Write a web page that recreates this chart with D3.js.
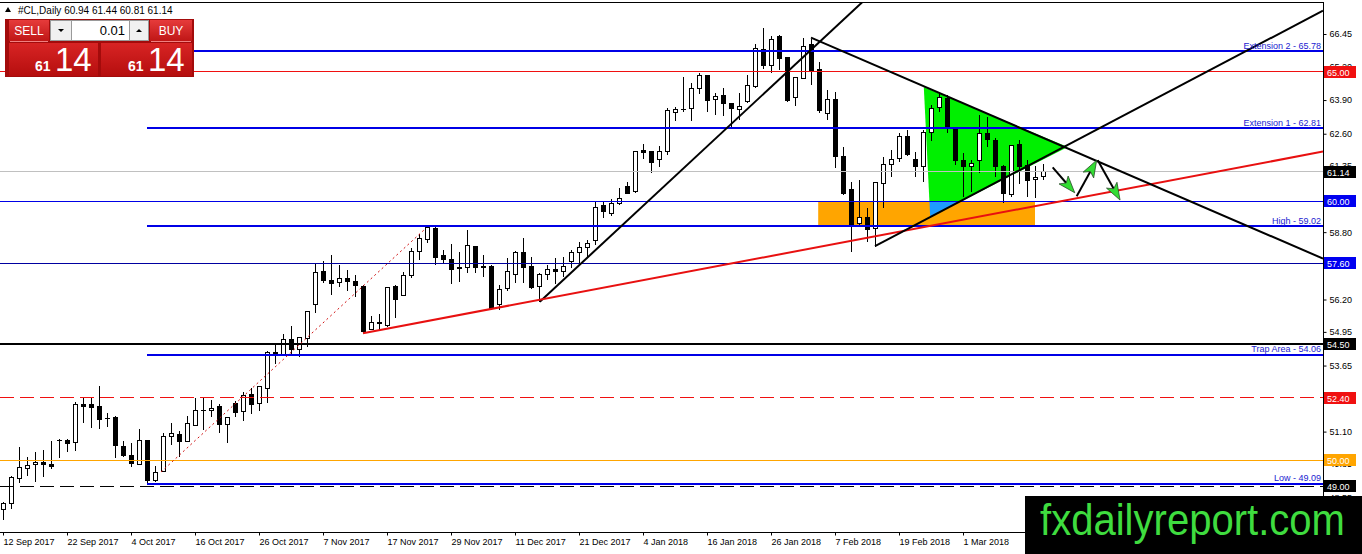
<!DOCTYPE html>
<html>
<head>
<meta charset="utf-8">
<script src="https://cdn.jsdelivr.net/npm/d3@7"></script>
<style>
  html, body { margin: 0; padding: 0; background: #fff; overflow: hidden; }
  svg { display: block; font-family: "Liberation Sans", Arial, sans-serif; }
</style>
</head>
<body>
<svg id="chart"></svg>
<script>
// --- daily OHLC for #CL, one bar per trading day from 12 Sep 2017 ---
const opens = [48.11,48.34,49.29,49.68,49.84,49.92,49.84,50.75,50.74,50.69,52.14,52.14,52.05,51.62,51.66,50.54,50.16,49.84,50.74,49.20,
  49.55,50.90,50.99,50.71,51.34,51.90,51.90,52.05,51.38,52.19,51.87,52.54,52.19,52.77,54.16,54.06,54.64,54.28,54.70,55.99,
  57.30,56.95,56.86,57.02,56.91,56.72,55.05,55.28,55.21,56.72,56.35,57.11,58.04,58.52,58.95,57.88,57.75,57.40,57.44,58.26,
  57.49,57.49,55.99,56.63,57.17,58.02,57.47,56.69,57.17,57.37,57.27,57.66,58.01,58.21,58.47,59.81,59.53,59.89,60.58,60.36,
  61.97,61.91,61.61,61.91,63.43,63.52,63.58,64.33,64.83,63.93,64.06,63.77,63.54,63.84,64.42,65.86,65.23,66.37,65.55,64.01,
  64.74,66.06,65.09,63.39,63.93,61.71,60.45,59.14,59.37,58.95,60.69,61.42,61.65,62.51,61.61,61.33,62.64,63.62,63.97,62.77,
  61.58,61.35,61.58,62.59,62.32,61.35,60.26,62.19,61.36,60.84,60.94];
const highs = [48.38,49.38,50.52,50.11,50.32,50.39,50.74,50.81,50.80,52.25,52.42,52.38,52.86,51.80,51.70,50.74,50.65,51.20,50.76,49.77,
  51.03,51.44,51.12,51.70,52.38,52.38,52.32,52.15,51.67,52.27,52.64,52.77,52.85,54.21,54.51,54.87,55.18,54.76,55.77,57.57,
  57.70,57.92,57.53,57.34,57.14,56.76,55.56,55.64,56.70,56.76,57.27,58.18,58.72,59.08,59.01,58.11,58.33,58.04,58.88,58.27,
  57.92,57.53,56.76,57.79,58.08,58.56,57.83,57.21,57.53,57.79,57.85,58.11,58.43,58.50,59.98,59.98,60.07,60.49,60.75,61.95,
  62.19,61.93,62.13,63.58,63.64,64.80,64.55,64.93,64.85,64.18,64.35,63.78,64.18,64.87,66.06,66.67,66.37,66.41,65.56,64.80,
  66.28,66.25,65.38,64.29,64.22,62.08,60.75,60.81,59.72,60.75,61.71,61.97,62.62,62.74,61.91,62.74,63.71,64.13,64.09,62.81,
  61.87,61.58,63.32,63.26,62.42,61.40,62.13,62.36,61.58,61.35,61.44];
const lows = [47.69,48.11,49.13,49.38,49.16,49.33,49.65,50.07,50.31,50.36,51.42,51.23,51.20,51.27,50.07,50.11,49.74,49.82,49.09,49.15,
  49.53,50.58,50.11,50.70,51.32,51.16,51.67,51.03,50.67,51.67,51.52,51.78,51.91,52.22,53.71,54.00,54.06,53.99,54.38,55.67,
  56.82,56.37,56.67,56.54,56.31,54.89,55.02,55.00,55.13,55.47,56.33,57.02,57.72,58.37,57.53,57.56,56.80,56.89,57.23,57.23,
  57.08,55.79,55.79,56.54,56.82,56.85,56.59,56.11,56.95,56.80,57.08,57.40,57.60,57.85,58.30,59.33,59.42,59.85,60.28,60.32,
  61.61,61.09,61.33,61.78,63.10,63.45,63.10,64.13,63.45,63.32,63.28,62.85,63.13,63.77,64.35,65.09,64.93,65.06,63.83,63.67,
  64.70,64.48,63.41,63.13,61.26,60.23,58.04,59.01,58.41,58.24,59.72,60.94,61.52,61.74,60.94,60.75,62.33,63.45,62.62,61.39,
  60.17,60.36,61.09,62.10,60.94,59.94,60.15,60.66,60.17,60.11,60.81];
const closes = [48.34,49.31,49.72,49.80,49.92,49.83,49.77,50.77,50.65,52.13,52.06,52.02,51.56,51.60,50.55,50.16,49.87,50.76,49.20,49.53,
  50.93,51.03,50.71,51.42,51.90,51.93,51.99,51.38,51.65,51.84,52.51,52.15,52.83,54.16,54.06,54.64,54.28,54.74,55.73,57.25,
  56.92,56.82,57.02,56.89,56.73,54.96,55.32,55.30,56.67,56.21,57.11,58.04,58.56,58.99,57.83,57.75,57.37,57.42,58.30,57.43,
  57.43,55.86,56.59,57.27,58.02,57.44,56.67,57.17,57.37,57.27,57.49,58.01,58.21,58.37,59.76,59.59,59.89,60.11,60.30,61.93,
  61.87,61.50,61.93,63.48,63.52,63.54,64.35,64.83,63.90,64.03,63.75,63.58,63.64,64.48,65.90,65.23,66.25,65.51,63.90,64.78,
  65.96,65.06,63.49,63.93,61.71,60.30,59.01,59.37,58.91,60.71,61.42,61.61,62.51,61.78,61.35,62.64,63.58,64.01,62.87,61.55,
  61.33,61.46,62.62,62.38,61.33,60.30,62.13,61.35,60.81,60.92,61.14];

// date labels sit on every 8th bar, starting at bar 0
const dateLabels = ["12 Sep 2017","22 Sep 2017","4 Oct 2017","16 Oct 2017","26 Oct 2017","7 Nov 2017","17 Nov 2017","29 Nov 2017",
  "11 Dec 2017","21 Dec 2017","4 Jan 2018","16 Jan 2018","26 Jan 2018","7 Feb 2018","19 Feb 2018","1 Mar 2018"];
const priceTicks = [66.45,65.20,63.90,62.60,61.35,60.05,58.80,57.50,56.20,54.95,53.65,52.40,51.10,49.85,48.55];
// tick labels that sit fully under a price tag
const coveredTicks = [60.05, 57.50, 52.40];

// horizontal levels (price, bar where the line starts, caption)
const levelPrices = [65.78, 65.00, 62.81, 61.14, 60.00, 59.02, 57.60, 54.50, 54.06, 52.40, 50.00, 49.09, 49.00];
const levelStartBar = [18, 0, 18, 0, 0, 18, 0, 0, 18, 0, 0, 18, 0];
const levelCaptions = ["Extension 2 - 65.78", "", "Extension 1 - 62.81", "", "", "High - 59.02", "", "", "Trap Area - 54.06", "", "", "Low - 49.09", ""];
const taggedPrices = [65.00, 61.14, 60.00, 57.60, 54.50, 52.40, 50.00, 49.00];

// drawn objects, points as [bar, price]
const steepTrend = [[67.1, 56.11], [101.7, 66.04]];
const supportTrend = [[45, 54.90], [165, 61.91]];
const downTrend = [[101, 66.31], [165, 57.78]];
const upTrend = [[109, 58.26], [165, 67.35]];
const dottedTrend = [[19.75, 49.54], [52.75, 58.92]];
const trianglePts = [[115.1, 64.40], [133.1, 62.09], [115.9, 59.38]];
const zoneBars = [101.9, 129];
const zonePrices = [59.02, 60.00];
const arrowPaths = [
  [[131.21, 61.30], [133.97, 60.32]],
  [[134.21, 60.19], [136.71, 61.58]],
  [[136.84, 61.58], [139.63, 60.04]]
];
const quote = { symbol: "#CL,Daily", o: 60.94, h: 61.44, l: 60.81, c: 61.14, lot: "0.01" };

// --- layout ---
const width = 1362, height = 554;
const plotRight = 1323, plotTop = 2, plotBottom = 532;
const blue = "#0000e6", red = "#f01010", orange = "#ffa500";

const svg = d3.select("#chart").attr("width", width).attr("height", height);

const x = d3.scaleLinear().domain([0, 165]).range([3, 1323]);
const y = d3.scaleLinear().domain([49, 66.45]).range([486, 34]);
const pt = d => [x(d[0]), y(d[1])];

const defs = svg.append("defs");
defs.append("clipPath").attr("id", "plot-clip")
  .append("rect").attr("x", 0).attr("y", plotTop).attr("width", plotRight).attr("height", plotBottom - plotTop);
defs.append("clipPath").attr("id", "zone-clip")
  .append("rect")
  .attr("x", x(zoneBars[0])).attr("y", y(zonePrices[1]))
  .attr("width", x(zoneBars[1]) - x(zoneBars[0]))
  .attr("height", y(zonePrices[0]) - y(zonePrices[1]));

const plot = svg.append("g").attr("clip-path", "url(#plot-clip)");

// background objects: triangle, zone and their overlap
const triPath = d3.line()(trianglePts.map(pt)) + "Z";
plot.append("path").attr("d", triPath).attr("fill", "#00f000");
plot.append("rect")
  .attr("x", x(zoneBars[0])).attr("y", y(zonePrices[1]))
  .attr("width", x(zoneBars[1]) - x(zoneBars[0]))
  .attr("height", y(zonePrices[0]) - y(zonePrices[1]))
  .attr("fill", orange);
plot.append("path").attr("d", triPath).attr("fill", "#1e9bff").attr("clip-path", "url(#zone-clip)");

// candles
const candles = d3.range(opens.length).map(i => ({ i, o: opens[i], h: highs[i], l: lows[i], c: closes[i] }));
const cg = plot.append("g").attr("class", "candles").attr("shape-rendering", "crispEdges");
const bar = cg.selectAll("g").data(candles).enter().append("g");
bar.append("line")
  .attr("x1", d => Math.round(x(d.i)) + 0.5).attr("x2", d => Math.round(x(d.i)) + 0.5)
  .attr("y1", d => y(d.h)).attr("y2", d => y(d.l))
  .attr("stroke", "#000");
bar.append("rect")
  .attr("x", d => Math.round(x(d.i)) - 1.5)
  .attr("width", 4)
  .attr("y", d => Math.min(y(d.o), y(d.c)))
  .attr("height", d => Math.max(0.01, Math.abs(y(d.o) - y(d.c))))
  .attr("fill", d => d.c >= d.o ? "#fff" : "#000")
  .attr("stroke", "#000");

// horizontal levels
const levelStyle = [
  { color: blue, w: 2 }, { color: red, w: 1 }, { color: blue, w: 2 }, { color: "#c0c0c0", w: 1 },
  { color: blue, w: 1 }, { color: blue, w: 2 }, { color: "#0000a0", w: 1 }, { color: "#000", w: 2 },
  { color: blue, w: 2 }, { color: red, w: 1, dash: "14,6" }, { color: orange, w: 1 }, { color: blue, w: 2 },
  { color: "#000", w: 1, dash: "14,6" }
];
// snap each level to the pixel grid so thin lines keep their colour
const levelY = (p, w) => w % 2 === 1 ? Math.round(y(p) - 0.5) + 0.5 : Math.round(y(p));
const lg = plot.append("g");
levelPrices.forEach((p, k) => {
  const st = levelStyle[k];
  lg.append("line")
    .attr("x1", levelStartBar[k] === 0 ? 0 : x(levelStartBar[k])).attr("x2", plotRight)
    .attr("y1", levelY(p, st.w)).attr("y2", levelY(p, st.w))
    .attr("stroke", st.color).attr("stroke-width", st.w)
    .attr("stroke-dasharray", st.dash || null);
});

// trend lines
function extendTo(pts, bar) {
  const [a, b] = pts;
  const slope = (b[1] - a[1]) / (b[0] - a[0]);
  return [a, [bar, a[1] + slope * (bar - a[0])]];
}
const line = d3.line().x(d => x(d[0])).y(d => y(d[1]));
plot.append("path").attr("d", line(dottedTrend))
  .attr("fill", "none").attr("stroke", "#d01010").attr("stroke-width", 1).attr("stroke-dasharray", "2,3");
plot.append("path").attr("d", line(extendTo(steepTrend, 130)))
  .attr("fill", "none").attr("stroke", "#000").attr("stroke-width", 2);
plot.append("path").attr("d", line(supportTrend))
  .attr("fill", "none").attr("stroke", "#e81010").attr("stroke-width", 2);
plot.append("path").attr("d", line(downTrend))
  .attr("fill", "none").attr("stroke", "#000").attr("stroke-width", 2);
plot.append("path").attr("d", line(upTrend))
  .attr("fill", "none").attr("stroke", "#000").attr("stroke-width", 2);

// arrows
arrowPaths.forEach(a => {
  const [x0, y0] = pt(a[0]);
  const [x1, y1] = pt(a[1]);
  const len = Math.hypot(x1 - x0, y1 - y0);
  const ux = (x1 - x0) / len, uy = (y1 - y0) / len;
  const headL = 17, headW = 6;
  const bx = x1 - ux * headL, by = y1 - uy * headL;
  plot.append("line").attr("x1", x0).attr("y1", y0).attr("x2", bx + ux * 4).attr("y2", by + uy * 4)
    .attr("stroke", "#000").attr("stroke-width", 2);
  plot.append("path")
    .attr("d", `M${x1},${y1}L${bx - uy * headW},${by + ux * headW}L${bx + ux * 4},${by + uy * 4}L${bx + uy * headW},${by - ux * headW}Z`)
    .attr("fill", "#33dd33").attr("stroke", "#2a4a2a").attr("stroke-width", 0.8);
});

// level captions
levelPrices.forEach((p, k) => {
  if (!levelCaptions[k]) return;
  plot.append("text")
    .attr("x", plotRight - 2).attr("y", y(p) - 2.5)
    .attr("text-anchor", "end")
    .attr("font-size", 9)
    .attr("fill", "#1a1ad0")
    .text(levelCaptions[k]);
});

// frame and axes
svg.append("line").attr("x1", 0).attr("x2", plotRight).attr("y1", plotTop + 0.5).attr("y2", plotTop + 0.5).attr("stroke", "#000");
svg.append("line").attr("x1", plotRight + 0.5).attr("x2", plotRight + 0.5).attr("y1", plotTop).attr("y2", plotBottom).attr("stroke", "#000");
svg.append("line").attr("x1", 0).attr("x2", plotRight).attr("y1", plotBottom + 0.5).attr("y2", plotBottom + 0.5).attr("stroke", "#000");

const yAxis = svg.append("g")
  .attr("transform", `translate(${plotRight + 0.5},0)`)
  .call(d3.axisRight(y).tickValues(priceTicks)
    .tickFormat(d => coveredTicks.includes(d) ? "" : d3.format(".2f")(d))
    .tickSize(3).tickPadding(3));
yAxis.select(".domain").remove();
yAxis.selectAll("text").attr("font-size", 9).attr("font-family", "Liberation Sans, Arial, sans-serif").attr("fill", "#000");

const xAxis = svg.append("g")
  .attr("transform", `translate(0,${plotBottom + 0.5})`)
  .call(d3.axisBottom(x).tickValues(d3.range(0, dateLabels.length * 8, 8)).tickFormat((d, k) => dateLabels[k]).tickSize(3).tickPadding(3));
xAxis.select(".domain").remove();
xAxis.selectAll("text").attr("text-anchor", "start").attr("x", 0)
  .attr("font-size", 9).attr("font-family", "Liberation Sans, Arial, sans-serif").attr("fill", "#000");

// price tags on the axis
const tagColor = p => {
  const c = levelStyle[levelPrices.indexOf(p)].color;
  if (c === "#c0c0c0" || c === "#000") return "#000";
  if (c === blue || c === "#0000a0") return "#0000f0";
  return c;
};
taggedPrices.forEach(p => {
  const g = svg.append("g").attr("transform", `translate(${plotRight + 1},${Math.round(y(p))})`);
  g.append("rect").attr("x", 0).attr("y", -6).attr("width", 32).attr("height", 12).attr("fill", tagColor(p));
  g.append("text").attr("x", 3).attr("y", 3.5).attr("font-size", 9).attr("fill", "#fff").text(p.toFixed(2));
});

// header line
svg.append("path").attr("d", "M5,12L11,12L8,7Z").attr("fill", "#000");
svg.append("text").attr("x", 18).attr("y", 14).attr("font-size", 10).attr("fill", "#000")
  .text(`${quote.symbol}  ${quote.o.toFixed(2)} ${quote.h.toFixed(2)} ${quote.l.toFixed(2)} ${quote.c.toFixed(2)}`);

// one-click trading panel
const grad = defs.append("linearGradient").attr("id", "btn-red").attr("x1", 0).attr("y1", 0).attr("x2", 0).attr("y2", 1);
grad.append("stop").attr("offset", "0%").attr("stop-color", "#e63b3b");
grad.append("stop").attr("offset", "100%").attr("stop-color", "#bf1616");
const grad2 = defs.append("linearGradient").attr("id", "panel-red").attr("x1", 0).attr("y1", 0).attr("x2", 0).attr("y2", 1);
grad2.append("stop").attr("offset", "0%").attr("stop-color", "#d82424");
grad2.append("stop").attr("offset", "100%").attr("stop-color", "#b50e0e");

const panel = svg.append("g");
panel.append("rect").attr("x", 5).attr("y", 19).attr("width", 189).attr("height", 58).attr("fill", "#a30b0b");
panel.append("rect").attr("x", 9).attr("y", 20).attr("width", 40).attr("height", 21).attr("fill", "url(#btn-red)");
panel.append("rect").attr("x", 150).attr("y", 20).attr("width", 42).attr("height", 21).attr("fill", "url(#btn-red)");
panel.append("rect").attr("x", 50.5).attr("y", 20.5).attr("width", 21).attr("height", 20).attr("fill", "#f0f0f0").attr("stroke", "#9a9a9a");
panel.append("rect").attr("x", 71.5).attr("y", 20.5).attr("width", 58).attr("height", 20).attr("fill", "#fff").attr("stroke", "#9a9a9a");
panel.append("rect").attr("x", 129.5).attr("y", 20.5).attr("width", 19).attr("height", 20).attr("fill", "#f0f0f0").attr("stroke", "#9a9a9a");
panel.append("path").attr("d", "M58,29L64,29L61,32Z").attr("fill", "#000");
panel.append("path").attr("d", "M136,32L142,32L139,29Z").attr("fill", "#000");
panel.append("text").attr("x", 125).attr("y", 35).attr("text-anchor", "end").attr("font-size", 13).attr("fill", "#000").text(quote.lot);
panel.append("text").attr("x", 29).attr("y", 35).attr("text-anchor", "middle").attr("font-size", 12).attr("fill", "#fff").text("SELL");
panel.append("text").attr("x", 171).attr("y", 35).attr("text-anchor", "middle").attr("font-size", 12).attr("fill", "#fff").text("BUY");
panel.append("line").attr("x1", 10).attr("x2", 48).attr("y1", 41.5).attr("y2", 41.5).attr("stroke", "#f08080");
panel.append("line").attr("x1", 151).attr("x2", 191).attr("y1", 41.5).attr("y2", 41.5).attr("stroke", "#f08080");
panel.append("rect").attr("x", 9).attr("y", 43).attr("width", 89).attr("height", 33).attr("fill", "url(#panel-red)");
panel.append("rect").attr("x", 101).attr("y", 43).attr("width", 91).attr("height", 33).attr("fill", "url(#panel-red)");
const bidStr = quote.c.toFixed(2).split(".");
[[35, 55], [128, 148]].forEach(([sx, bx]) => {
  panel.append("text").attr("x", sx).attr("y", 71).attr("font-size", 14).attr("font-weight", "bold").attr("fill", "#fff").text(bidStr[0]);
  panel.append("text").attr("x", bx).attr("y", 71).attr("font-size", 33).attr("fill", "#fff").text(bidStr[1]);
});

// watermark box
svg.append("rect").attr("x", 1025).attr("y", 496).attr("width", width - 1025).attr("height", height - 496).attr("fill", "#000");
svg.append("text").attr("x", 1040).attr("y", 535)
  .attr("font-size", 44).attr("fill", "#3fdc3f")
  .attr("textLength", 305).attr("lengthAdjust", "spacingAndGlyphs")
  .text("fxdailyreport.com");
</script>
</body>
</html>
